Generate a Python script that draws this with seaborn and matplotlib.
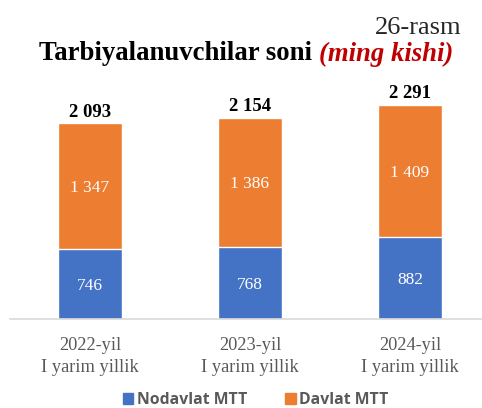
import matplotlib
matplotlib.use("Agg")
import matplotlib.pyplot as plt
import numpy as np
import pandas as pd
import seaborn as sns
from matplotlib.patches import Patch

# data
periods = ["2022-yil\nI yarim yillik", "2023-yil\nI yarim yillik", "2024-yil\nI yarim yillik"]
nodavlat = [746, 768, 882]
davlat = [1347, 1386, 1409]
jami = [2093, 2154, 2291]

BLUE = "#4472C4"
ORANGE = "#ED7D31"
GRAY = "#595959"

sns.set_theme(style="white")
plt.rcParams["font.family"] = ["Liberation Serif", "DejaVu Serif"]

df = pd.DataFrame({"period": periods, "nodavlat": nodavlat, "davlat": davlat, "jami": jami})
df["stack"] = df["nodavlat"] + df["davlat"]

fig = plt.figure(figsize=(4.82, 4.08), dpi=100)
ax = fig.add_axes([10 / 482, 89 / 408, 472 / 482, 243 / 408])

# the top layer is drawn first with the full height, the bottom layer over it
sns.barplot(data=df, x="period", y="stack", color=ORANGE, width=0.4,
            saturation=1, ax=ax)
sns.barplot(data=df, x="period", y="nodavlat", color=BLUE, width=0.4,
            saturation=1, ax=ax)

ax.set_xlim(-0.5, 2.45)
ax.set_ylim(0, 2600)
ax.set_xlabel("")
ax.set_ylabel("")
ax.set_yticks([])
for side in ["top", "right", "left"]:
    ax.spines[side].set_visible(False)
ax.spines["bottom"].set_color("#D9D9D9")
ax.spines["bottom"].set_linewidth(1.2)
ax.tick_params(axis="x", length=0, pad=13, labelsize=13.2, labelcolor=GRAY)
for lbl in ax.get_xticklabels():
    lbl.set_linespacing(1.4)


def fmt(v):
    return f"{v:,}".replace(",", " ")


for i, row in df.iterrows():
    ax.text(i, row["nodavlat"] / 2, fmt(row["nodavlat"]), ha="center",
            va="center_baseline", color="white", fontsize=12.5)
    ax.text(i, row["nodavlat"] + row["davlat"] / 2, fmt(row["davlat"]), ha="center",
            va="center_baseline", color="white", fontsize=12.5)
    ax.text(i, row["stack"] + 30, fmt(row["jami"]), ha="center", va="bottom",
            color="black", fontsize=13.5, fontweight="bold")

fig.text(462 / 482, 1 - 28 / 408, "26-rasm", ha="right", va="center", fontsize=19)
t1 = fig.text(39 / 482, 1 - 54 / 408, "Tarbiyalanuvchilar soni ", ha="left", va="center",
              fontsize=19.3, fontweight="bold", color="black")
fig.canvas.draw()
bb = t1.get_window_extent().transformed(fig.transFigure.inverted())
fig.text(bb.x1, 1 - 54 / 408, "(ming kishi)", ha="left", va="center",
         fontsize=19.3, fontweight="bold", fontstyle="italic", color="#C00000")

handles = [Patch(color=BLUE, label="Nodavlat MTT"), Patch(color=ORANGE, label="Davlat MTT")]
fig.legend(handles=handles, loc="center", bbox_to_anchor=(256 / 482, 1 - 400 / 408),
           ncol=2, frameon=False, handlelength=0.65, handleheight=0.65,
           handletextpad=0.25, columnspacing=2.4,
           prop={"family": "Open Sans", "weight": "bold", "size": 11.3},
           labelcolor=GRAY)

fig.savefig("out.png", dpi=100)
